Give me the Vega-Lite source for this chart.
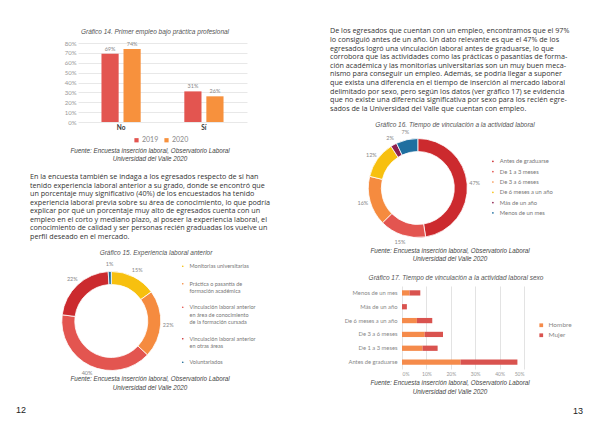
{
  "$schema": "https://vega.github.io/schema/vega-lite/v6.json",
  "padding": 0,
  "background": "white",
  "config": {
    "view": {"stroke": null},
    "axis": {"labelFont": "Lato", "domain": false, "ticks": false},
    "legend": {"labelFont": "Lato", "padding": 0}
  },
  "bounds": "full",
  "spacing": 0,
  "resolve": {"scale": {"color": "independent"}},
  "hconcat": [
    {
      "bounds": "flush",
      "spacing": 0,
      "resolve": {"scale": {"color": "independent"}},
      "vconcat": [
        {"width": 300, "height": 28, "data": {"values": [{}]}, "mark": {"type": "point", "opacity": 0}, "encoding": {}},
        {"width": 300, "height": 8, "data": {"values": [{"t": "Gráfico 14. Primer empleo bajo práctica profesional"}]},
         "mark": {"type": "text", "font": "Liberation Sans Narrow, Liberation Sans", "fontStyle": "italic", "fontSize": 6.5, "color": "#555", "dx": 5},
         "encoding": {"text": {"field": "t"}}},
        {"width": 300, "height": 7, "data": {"values": [{}]}, "mark": {"type": "point", "opacity": 0}, "encoding": {}},
        {
          "width": 300,
          "height": 79,
          "data": {"values": [
            {"respuesta": "No", "anio": "2019", "valor": 0.69},
            {"respuesta": "No", "anio": "2020", "valor": 0.74},
            {"respuesta": "Sí", "anio": "2019", "valor": 0.31},
            {"respuesta": "Sí", "anio": "2020", "valor": 0.26}
          ]},
          "encoding": {
            "x": {"field": "respuesta", "type": "nominal", "scale": {"range": [78, 247], "paddingInner": 0.5, "paddingOuter": 0.27},
                  "axis": {"title": null, "labelAngle": 0, "labelFontWeight": "bold", "labelFontSize": 6.5, "labelColor": "#333", "labelPadding": 2}},
            "xOffset": {"field": "anio", "type": "nominal", "scale": {"paddingInner": 0.22, "paddingOuter": 0.05}},
            "y": {"field": "valor", "type": "quantitative", "scale": {"domain": [0, 0.8]},
                  "axis": {"title": null, "offset": -78, "format": ".0%", "values": [0, 0.1, 0.2, 0.3, 0.4, 0.5, 0.6, 0.7, 0.8], "labelFontSize": 6, "labelColor": "#999", "labelPadding": 2, "gridColor": "#e8e8e8"}}
          },
          "layer": [
            {"mark": {"type": "bar"},
             "encoding": {"color": {"field": "anio", "type": "nominal", "scale": {"domain": ["2019", "2020"], "range": ["#E35550", "#F7913D"]},
               "legend": {"title": null, "orient": "none", "direction": "horizontal", "legendX": 133, "legendY": 93.5, "symbolType": "square", "symbolSize": 18, "labelFontSize": 7, "labelColor": "#888", "columnPadding": 4, "labelOffset": 2}}}},
            {"mark": {"type": "text", "dy": -5, "fontSize": 5.5, "color": "#888", "font": "Lato"},
             "encoding": {"text": {"field": "valor", "type": "quantitative", "format": ".0%"}}}
          ]
        },
        {"width": 300, "height": 25, "data": {"values": [{}]}, "mark": {"type": "point", "opacity": 0}, "encoding": {}},
        {"width": 300, "height": 16,
         "data": {"values": [{"n": 0, "linea": "Fuente: Encuesta inserción laboral, Observatorio Laboral"}, {"n": 1, "linea": "Universidad del Valle 2020"}]},
         "mark": {"type": "text", "font": "Liberation Sans", "fontStyle": "italic", "fontSize": 6.3, "color": "#444"},
         "encoding": {"y": {"field": "n", "type": "ordinal", "axis": null, "scale": {"type": "point", "padding": 0.5}}, "text": {"field": "linea"}}},
        {"width": 300, "height": 9.5, "data": {"values": [{}]}, "mark": {"type": "point", "opacity": 0}, "encoding": {}},
        {"width": 300, "height": 68,
         "data": {"values": [
           {"n": 0, "linea": "En la encuesta también se indaga a los egresados respecto de si han"},
           {"n": 1, "linea": "tenido experiencia laboral anterior a su grado, donde se encontró que"},
           {"n": 2, "linea": "un porcentaje muy significativo (40%) de los encuestados ha tenido"},
           {"n": 3, "linea": "experiencia laboral previa sobre su área de conocimiento,  lo que podría"},
           {"n": 4, "linea": "explicar por qué un porcentaje muy alto de egresados cuenta con un"},
           {"n": 5, "linea": "empleo en el corto y mediano plazo, al poseer la experiencia laboral, el"},
           {"n": 6, "linea": "conocimiento de calidad y ser personas recién graduadas los vuelve un"},
           {"n": 7, "linea": "perfil deseado en el mercado."}
         ]},
         "mark": {"type": "text", "font": "Open Sans", "fontSize": 7.2, "color": "#333", "align": "left"},
         "encoding": {"x": {"value": 30}, "y": {"field": "n", "type": "ordinal", "axis": null, "scale": {"type": "point", "padding": 0.5}}, "text": {"field": "linea"}}},
        {"width": 300, "height": 7.5, "data": {"values": [{}]}, "mark": {"type": "point", "opacity": 0}, "encoding": {}},
        {"width": 300, "height": 8, "data": {"values": [{"t": "Gráfico 15. Experiencia laboral anterior"}]},
         "mark": {"type": "text", "font": "Liberation Sans Narrow, Liberation Sans", "fontStyle": "italic", "fontSize": 6.5, "color": "#555", "dx": 6},
         "encoding": {"text": {"field": "t"}}},
        {"width": 300, "height": 14, "data": {"values": [{}]}, "mark": {"type": "point", "opacity": 0}, "encoding": {}},
        {
          "width": 222.6,
          "height": 100,
          "data": {"values": [
            {"tipo": "Monitorias universitarias", "pct": 0.15, "orden": 1},
            {"tipo": "Práctica o pasantía de formación académica", "pct": 0.22, "orden": 2},
            {"tipo": "Vinculación laboral anterior en área de conocimiento de la formación cursada", "pct": 0.40, "orden": 3},
            {"tipo": "Vinculación laboral anterior en otras áreas", "pct": 0.22, "orden": 4},
            {"tipo": "Voluntariados", "pct": 0.01, "orden": 5}
          ]},
          "encoding": {
            "theta": {"field": "pct", "type": "quantitative", "stack": true},
            "order": {"field": "orden", "type": "quantitative"}
          },
          "layer": [
            {"mark": {"type": "arc", "innerRadius": 36.5, "outerRadius": 49.5, "stroke": "white", "strokeWidth": 0.8},
             "encoding": {"color": {"field": "tipo", "type": "nominal",
               "scale": {"domain": ["Monitorias universitarias", "Práctica o pasantía de formación académica", "Vinculación laboral anterior en área de conocimiento de la formación cursada", "Vinculación laboral anterior en otras áreas", "Voluntariados"],
                         "range": ["#F7C00F", "#F58B3F", "#E35550", "#CB2A2E", "#1C6A96"]},
               "legend": {"title": null, "orient": "none", "legendX": 180, "legendY": -7.5, "symbolType": "circle", "symbolSize": 10, "labelFontSize": 5.5, "labelColor": "#777", "rowPadding": 7.5, "labelLimit": 200,
                 "labelExpr": "datum.label == 'Práctica o pasantía de formación académica' ? ['Práctica o pasantía de', 'formación académica'] : datum.label == 'Vinculación laboral anterior en área de conocimiento de la formación cursada' ? ['Vinculación laboral anterior', 'en área de conocimiento', 'de la formación cursada'] : datum.label == 'Vinculación laboral anterior en otras áreas' ? ['Vinculación laboral anterior', 'en otras áreas'] : datum.label",
                 "encode": {"labels": {"update": {"lineHeight": {"value": 6}}}}}}}},
            {"mark": {"type": "text", "radius": 57, "fontSize": 5.5, "color": "#888", "font": "Lato"},
             "encoding": {"detail": {"field": "tipo"}, "text": {"field": "pct", "type": "quantitative", "format": ".0%"}}}
          ]
        },
        {"width": 300, "height": 3.75, "data": {"values": [{}]}, "mark": {"type": "point", "opacity": 0}, "encoding": {}},
        {"width": 300, "height": 17,
         "data": {"values": [{"n": 0, "linea": "Fuente: Encuesta inserción laboral, Observatorio Laboral"}, {"n": 1, "linea": "Universidad del Valle 2020"}]},
         "mark": {"type": "text", "font": "Liberation Sans", "fontStyle": "italic", "fontSize": 6.3, "color": "#444"},
         "encoding": {"y": {"field": "n", "type": "ordinal", "axis": null, "scale": {"type": "point", "padding": 0.5}}, "text": {"field": "linea"}}},
        {"width": 300, "height": 12.25, "data": {"values": [{}]}, "mark": {"type": "point", "opacity": 0}, "encoding": {}},
        {"width": 300, "height": 10, "data": {"values": [{"p": "12"}]},
         "mark": {"type": "text", "font": "Liberation Sans", "fontSize": 9, "color": "#222", "align": "left"},
         "encoding": {"x": {"value": 16}, "text": {"field": "p"}}}
      ]
    },
    {
      "bounds": "flush",
      "spacing": 0,
      "resolve": {"scale": {"color": "independent"}},
      "vconcat": [
        {"width": 300, "height": 26.4, "data": {"values": [{}]}, "mark": {"type": "point", "opacity": 0}, "encoding": {}},
        {"width": 300, "height": 86,
         "data": {"values": [
           {"n": 0, "linea": "De los egresados que cuentan con un empleo, encontramos que el 97%"},
           {"n": 1, "linea": "lo consiguió antes de un año. Un dato relevante es que el 47% de los"},
           {"n": 2, "linea": "egresados logró una vinculación laboral antes de graduarse, lo que"},
           {"n": 3, "linea": "corrobora que las actividades como las prácticas o pasantías de forma-"},
           {"n": 4, "linea": "ción académica y las monitorias universitarias son un muy buen meca-"},
           {"n": 5, "linea": "nismo para conseguir un empleo. Además, se podría llegar a suponer"},
           {"n": 6, "linea": "que exista una diferencia en el tiempo de inserción al mercado laboral"},
           {"n": 7, "linea": "delimitado por sexo, pero según los datos (ver gráfico 17) se evidencia"},
           {"n": 8, "linea": "que no existe una diferencia significativa por sexo para los recién egre-"},
           {"n": 9, "linea": "sados de la Universidad del Valle que cuentan con empleo."}
         ]},
         "mark": {"type": "text", "font": "Open Sans", "fontSize": 7.2, "color": "#333", "align": "left"},
         "encoding": {"x": {"value": 30}, "y": {"field": "n", "type": "ordinal", "axis": null, "scale": {"type": "point", "padding": 0.5}}, "text": {"field": "linea"}}},
        {"width": 300, "height": 7.6, "data": {"values": [{}]}, "mark": {"type": "point", "opacity": 0}, "encoding": {}},
        {"width": 300, "height": 8, "data": {"values": [{"t": "Gráfico 16. Tiempo de vinculación a la actividad laboral"}]},
         "mark": {"type": "text", "font": "Liberation Sans Narrow, Liberation Sans", "fontStyle": "italic", "fontSize": 6.5, "color": "#555", "dx": 5},
         "encoding": {"text": {"field": "t"}}},
        {"width": 300, "height": 9, "data": {"values": [{}]}, "mark": {"type": "point", "opacity": 0}, "encoding": {}},
        {
          "width": 235.6,
          "height": 100,
          "data": {"values": [
            {"tiempo": "Antes de graduarse", "pct": 0.47, "orden": 1},
            {"tiempo": "De 1 a 3 meses", "pct": 0.15, "orden": 2},
            {"tiempo": "De 3 a 6 meses", "pct": 0.16, "orden": 3},
            {"tiempo": "De 6 meses a un año", "pct": 0.12, "orden": 4},
            {"tiempo": "Más de un año", "pct": 0.02, "orden": 5},
            {"tiempo": "Menos de un mes", "pct": 0.07, "orden": 6}
          ]},
          "encoding": {
            "theta": {"field": "pct", "type": "quantitative", "stack": true},
            "order": {"field": "orden", "type": "quantitative"}
          },
          "layer": [
            {"mark": {"type": "arc", "innerRadius": 36.5, "outerRadius": 49.5, "stroke": "white", "strokeWidth": 0.8},
             "encoding": {"color": {"field": "tiempo", "type": "nominal",
               "scale": {"domain": ["Antes de graduarse", "De 1 a 3 meses", "De 3 a 6 meses", "De 6 meses a un año", "Más de un año", "Menos de un mes"],
                         "range": ["#CC2A2E", "#E35550", "#F58B3F", "#F7C00F", "#8E2150", "#1F6FA0"]},
               "legend": {"title": null, "orient": "none", "legendX": 190, "legendY": 20.5, "symbolType": "circle", "symbolSize": 10, "labelFontSize": 5.8, "labelColor": "#777", "rowPadding": 0.3, "labelLimit": 200}}}},
            {"mark": {"type": "text", "radius": 57, "fontSize": 5.5, "color": "#888", "font": "Lato"},
             "encoding": {"detail": {"field": "tiempo"}, "text": {"field": "pct", "type": "quantitative", "format": ".0%"}}}
          ]
        },
        {"width": 300, "height": 8.8, "data": {"values": [{}]}, "mark": {"type": "point", "opacity": 0}, "encoding": {}},
        {"width": 300, "height": 16.6,
         "data": {"values": [{"n": 0, "linea": "Fuente: Encuesta inserción laboral, Observatorio Laboral"}, {"n": 1, "linea": "Universidad del Valle 2020"}]},
         "mark": {"type": "text", "font": "Liberation Sans", "fontStyle": "italic", "fontSize": 6.3, "color": "#444"},
         "encoding": {"y": {"field": "n", "type": "ordinal", "axis": null, "scale": {"type": "point", "padding": 0.5}}, "text": {"field": "linea"}}},
        {"width": 300, "height": 9.6, "data": {"values": [{}]}, "mark": {"type": "point", "opacity": 0}, "encoding": {}},
        {"width": 300, "height": 8, "data": {"values": [{"t": "Gráfico 17. Tiempo de vinculación a la actividad laboral sexo"}]},
         "mark": {"type": "text", "font": "Liberation Sans Narrow, Liberation Sans", "fontStyle": "italic", "fontSize": 6.5, "color": "#555", "dx": 6},
         "encoding": {"text": {"field": "t"}}},
        {"width": 300, "height": 3.8, "data": {"values": [{}]}, "mark": {"type": "point", "opacity": 0}, "encoding": {}},
        {
          "width": 300,
          "height": 83,
          "data": {"values": [
            {"tiempo": "Menos de un mes", "sexo": "Hombre", "pct": 0.031},
            {"tiempo": "Menos de un mes", "sexo": "Mujer", "pct": 0.044},
            {"tiempo": "Más de un año", "sexo": "Hombre", "pct": 0.0},
            {"tiempo": "Más de un año", "sexo": "Mujer", "pct": 0.02},
            {"tiempo": "De 6 meses a un año", "sexo": "Hombre", "pct": 0.061},
            {"tiempo": "De 6 meses a un año", "sexo": "Mujer", "pct": 0.063},
            {"tiempo": "De 3 a 6 meses", "sexo": "Hombre", "pct": 0.093},
            {"tiempo": "De 3 a 6 meses", "sexo": "Mujer", "pct": 0.075},
            {"tiempo": "De 1 a 3 meses", "sexo": "Hombre", "pct": 0.084},
            {"tiempo": "De 1 a 3 meses", "sexo": "Mujer", "pct": 0.062},
            {"tiempo": "Antes de graduarse", "sexo": "Hombre", "pct": 0.24},
            {"tiempo": "Antes de graduarse", "sexo": "Mujer", "pct": 0.233}
          ]},
          "mark": {"type": "bar"},
          "encoding": {
            "y": {"field": "tiempo", "type": "nominal", "sort": ["Menos de un mes", "Más de un año", "De 6 meses a un año", "De 3 a 6 meses", "De 1 a 3 meses", "Antes de graduarse"],
                  "scale": {"paddingInner": 0.62, "paddingOuter": 0.31},
                  "axis": {"title": null, "offset": -102, "labelFontSize": 5.8, "labelColor": "#888", "labelPadding": 5, "grid": false}},
            "x": {"field": "pct", "type": "quantitative", "stack": "zero", "scale": {"domain": [0, 0.5], "range": [102, 224]},
                  "axis": {"title": null, "format": ".0%", "values": [0, 0.1, 0.2, 0.3, 0.4, 0.5], "labelFontSize": 5, "labelColor": "#999", "labelPadding": 2.5, "gridColor": "#e3e3e3"}},
            "color": {"field": "sexo", "type": "nominal", "scale": {"domain": ["Hombre", "Mujer"], "range": ["#F58B4B", "#D9534F"]},
                      "legend": {"title": null, "orient": "none", "legendX": 238, "legendY": 36, "symbolType": "square", "symbolSize": 14, "labelFontSize": 6.5, "labelColor": "#888", "rowPadding": 3}},
            "order": {"field": "sexo", "sort": "ascending"}
          }
        },
        {"width": 300, "height": 10, "data": {"values": [{}]}, "mark": {"type": "point", "opacity": 0}, "encoding": {}},
        {"width": 300, "height": 17,
         "data": {"values": [{"n": 0, "linea": "Fuente: Encuesta inserción laboral, Observatorio Laboral"}, {"n": 1, "linea": "Universidad del Valle 2020"}]},
         "mark": {"type": "text", "font": "Liberation Sans", "fontStyle": "italic", "fontSize": 6.3, "color": "#444"},
         "encoding": {"y": {"field": "n", "type": "ordinal", "axis": null, "scale": {"type": "point", "padding": 0.5}}, "text": {"field": "linea"}}},
        {"width": 300, "height": 9.2, "data": {"values": [{}]}, "mark": {"type": "point", "opacity": 0}, "encoding": {}},
        {"width": 300, "height": 10, "data": {"values": [{"p": "13"}]},
         "mark": {"type": "text", "font": "Liberation Sans", "fontSize": 9, "color": "#222", "align": "left"},
         "encoding": {"x": {"value": 273}, "text": {"field": "p"}}}
      ]
    }
  ]
}
